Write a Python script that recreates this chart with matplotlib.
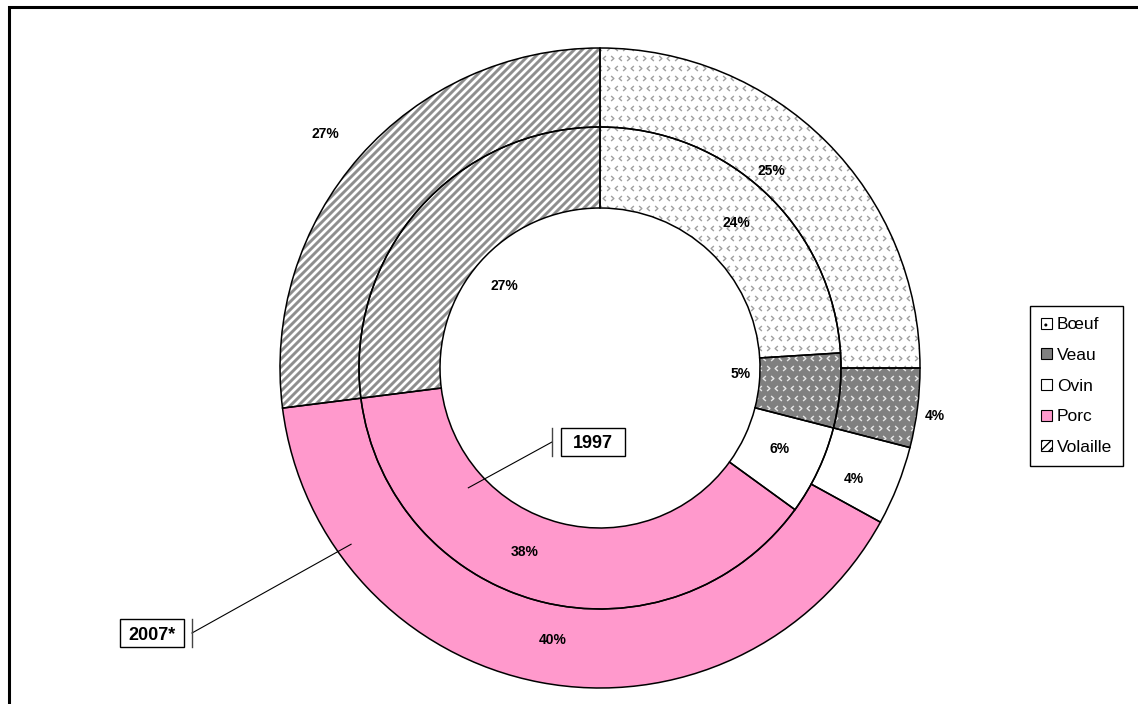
import numpy as np
import matplotlib
matplotlib.use("Agg")
import matplotlib.pyplot as plt
from matplotlib.patches import Wedge, Patch, Rectangle
from matplotlib.path import Path

plt.rcParams["font.family"] = ["Liberation Sans", "DejaVu Sans"]

categories = ["Bœuf", "Veau", "Ovin", "Porc", "Volaille"]
share_2007 = [25, 4, 4, 40, 27]   # outer ring
share_1997 = [24, 5, 6, 38, 27]   # inner ring
series = ["2007*", "1997"]

# label placement (pixels from centre, degree nudge) - styling only
outer_lab_r = [261, 338, 277, 276, 361]
outer_lab_da = [4, -1, -2, 1, 1]
inner_lab_r = [199, 141, 197, 199, 126]
inner_lab_da = [0, 3, 1, -8, 1]

W, H = 1138, 704
fig = plt.figure(figsize=(W / 100, H / 100), dpi=100)
ax = fig.add_axes([0, 0, 1, 1])
ax.set_xlim(0, W)
ax.set_ylim(0, H)
ax.axis("off")

cx, cy = 600, H - 368
R_out, R_mid, R_in = 320, 241, 160

pink = "#ff99cc"
face = {"Bœuf": "white", "Veau": "#808080", "Ovin": "white", "Porc": pink, "Volaille": "white"}

chev_l = Path([(0.5, 0.9), (-0.5, 0), (0.5, -0.9)], [Path.MOVETO, Path.LINETO, Path.LINETO])
chev_r = Path([(-0.5, 0.9), (0.5, 0), (-0.5, -0.9)], [Path.MOVETO, Path.LINETO, Path.LINETO])

gx = np.arange(cx - R_out, cx + R_out + 8, 8.0)
gy = np.arange(cy - R_out, cy + R_out + 10, 10.0)


def texture(patch, name):
    if name in ("Bœuf", "Veau"):
        col = "#a0a0a0" if name == "Bœuf" else "#e8e8e8"
        for j, y in enumerate(gy):
            off = 4 if j % 2 else 0
            xs = gx + off
            for k, mk in enumerate((chev_l, chev_r)):
                sel = xs[k::2]
                ln, = ax.plot(sel, np.full_like(sel, y), ls="none", marker=mk, ms=3.6,
                              mfc="none", mec=col, mew=1.0, zorder=2)
                ln.set_clip_path(patch)
    elif name == "Volaille":
        for k in np.arange(-2 * R_out - 400, 2 * R_out + 400, 8.0):
            xs = np.array([cx - R_out - 20, cx + R_out + 20])
            ln, = ax.plot(xs, xs - cx + cy + k, color="#8e8e8e", lw=2.1, zorder=2,
                          solid_capstyle="butt")
            ln.set_clip_path(patch)


def ring(values, r, width, lab_r, lab_da):
    total = float(sum(values))
    start = 0.0
    for name, v, lr, da in zip(categories, values, lab_r, lab_da):
        t2 = 90 - 360 * start / total
        t1 = 90 - 360 * (start + v) / total
        base = Wedge((cx, cy), r, t1, t2, width=width, facecolor=face[name],
                     edgecolor="none", zorder=1)
        ax.add_patch(base)
        texture(base, name)
        ax.add_patch(Wedge((cx, cy), r, t1, t2, width=width, facecolor="none",
                           edgecolor="black", lw=1.1, zorder=3))
        mid = np.deg2rad((t1 + t2) / 2 + da)
        ax.text(cx + lr * np.cos(mid), cy + lr * np.sin(mid), f"{v}%",
                ha="center", va="center", fontsize=10, fontweight="bold", zorder=4)
        start += v


ring(share_2007, R_out, R_out - R_mid, outer_lab_r, outer_lab_da)
ring(share_1997, R_mid, R_mid - R_in, inner_lab_r, inner_lab_da)


def callout(text, r, ang, tick_x, tick_y, box_x):
    a = np.deg2rad(ang)
    px, py = cx + r * np.cos(a), cy + r * np.sin(a)
    ax.plot([px, tick_x], [py, tick_y], color="black", lw=0.8, zorder=5)
    ax.plot([tick_x, tick_x], [tick_y - 14, tick_y + 14], color="#444444", lw=1.0, zorder=5)
    ax.add_patch(Rectangle((box_x - 32, tick_y - 14), 64, 28, facecolor="white",
                           edgecolor="black", lw=1.0, zorder=6))
    ax.text(box_x, tick_y, text, ha="center", va="center_baseline", fontsize=13,
            fontweight="bold", zorder=7)


callout(series[1], 178, -137.7, 552, H - 442, 593)
callout(series[0], 305, -144.7, 192, H - 633, 152)

# chart frame (only the top and left edges are visible)
ax.plot([9.5, 9.5, W], [0, H - 7, H - 7], color="black", lw=2.2, solid_joinstyle="miter")

handles = [
    Patch(facecolor="white", edgecolor="black", hatch="..", lw=0.8),
    Patch(facecolor="#808080", edgecolor="black", lw=0.8),
    Patch(facecolor="white", edgecolor="black", lw=0.8),
    Patch(facecolor=pink, edgecolor="black", lw=0.8),
    Patch(facecolor="white", edgecolor="black", hatch="////", lw=0.8),
]
leg = ax.legend(handles, categories, loc="upper left",
                bbox_to_anchor=(1030 / W, 1 - 306 / H), fontsize=12.5,
                frameon=True, fancybox=False, edgecolor="black", framealpha=1,
                handlelength=0.6, handleheight=0.6, handletextpad=0.3,
                labelspacing=0.9, borderpad=0.65, borderaxespad=0)
leg.get_frame().set_linewidth(1.0)

fig.savefig("out.png", dpi=100)
